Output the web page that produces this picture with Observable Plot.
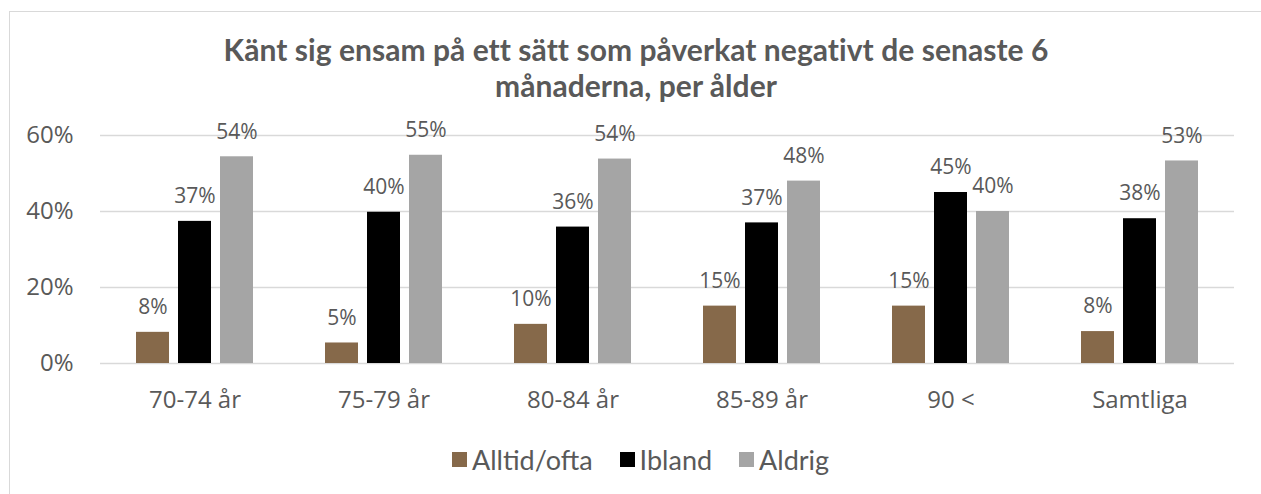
<!DOCTYPE html>
<html>
<head>
<meta charset="utf-8">
<script src="https://cdn.jsdelivr.net/npm/d3@7"></script>
<script src="https://cdn.jsdelivr.net/npm/@observablehq/plot@0.6"></script>
<style>
  html, body { margin: 0; padding: 0; background: #fff; }
  #page { position: relative; width: 1261px; height: 494px; overflow: hidden; }
  #frame { position: absolute; left: 9px; top: 11px; width: 1300px; height: 520px; border: 1.5px solid #d9d9d9; box-sizing: border-box; }
  #title { position: absolute; left: 0; top: 31px; width: 1272px; text-align: center; font-family: Lato, "Open Sans", sans-serif; font-weight: bold; font-size: 30px; line-height: 36px; color: #595959; letter-spacing: 0.05px; }
  #chart { position: absolute; left: 0; top: 0; }
  #legend { position: absolute; left: 452px; top: 443px; display: flex; align-items: center; font-family: Lato, "Open Sans", sans-serif; font-size: 27px; color: #595959; }
  .item { display: flex; align-items: center; margin-right: 27px; }
  .sw { width: 15px; height: 15px; margin-right: 5px; }
</style>
</head>
<body>
<div id="page">
  <div id="frame"></div>
  <div id="title">Känt sig ensam på ett sätt som påverkat negativt de senaste 6<br>månaderna, per ålder</div>
  <div id="chart"></div>
  <div id="legend"></div>
</div>
<script>
const categories = ["70-74 år", "75-79 år", "80-84 år", "85-89 år", "90 <", "Samtliga"];
const series = ["Alltid/ofta", "Ibland", "Aldrig"];
const colors = ["#86694A", "#000000", "#A5A5A5"];
const alltidOfta = [8.2, 5.4, 10.3, 15.1, 15.1, 8.4];
const ibland = [37.4, 39.8, 35.9, 37.0, 45.0, 38.1];
const aldrig = [54.4, 54.8, 53.8, 48.0, 40.0, 53.3];
const yTicks = [0, 20, 40, 60];

const seriesValues = [alltidOfta, ibland, aldrig];
const data = [];
categories.forEach((c, i) => {
  series.forEach((s, j) => {
    data.push({ cat: c, series: s, value: seriesValues[j][i] });
  });
});

const txtColor = "#595959";
const chart = Plot.plot({
  width: 1261,
  height: 420,
  marginTop: 135,
  marginBottom: 57,
  marginLeft: 100,
  marginRight: 27,
  style: { fontFamily: "'Open Sans', sans-serif", color: txtColor, background: "transparent" },
  fx: { domain: categories, paddingInner: 0, paddingOuter: 0, label: null },
  x: { domain: series, paddingInner: 0.22, paddingOuter: 0.834, axis: null },
  y: { domain: [0, 60], label: null },
  color: { domain: series, range: colors },
  marks: [
    Plot.gridY(yTicks, { stroke: "#d9d9d9", strokeOpacity: 1, strokeWidth: 1.5 }),
    Plot.barY(data, { fx: "cat", x: "series", y: "value", fill: "series" }),
    Plot.text(data, { fx: "cat", x: "series", y: "value", text: d => Math.round(d.value) + "%", dy: -25, fontSize: 21, fill: txtColor }),
    Plot.axisY(yTicks, { tickSize: 0, tickPadding: 27, fontSize: 24, tickFormat: d => d + "%", label: null, fill: txtColor }),
    Plot.axisFx({ anchor: "bottom", tickSize: 0, tickPadding: 27, fontSize: 24, label: null, fill: txtColor })
  ]
});
document.getElementById("chart").appendChild(chart);

const legend = document.getElementById("legend");
series.forEach((s, i) => {
  const it = document.createElement("div");
  it.className = "item";
  const sw = document.createElement("div");
  sw.className = "sw";
  sw.style.background = colors[i];
  const t = document.createElement("span");
  t.textContent = s;
  it.appendChild(sw);
  it.appendChild(t);
  legend.appendChild(it);
});
</script>
</body>
</html>
